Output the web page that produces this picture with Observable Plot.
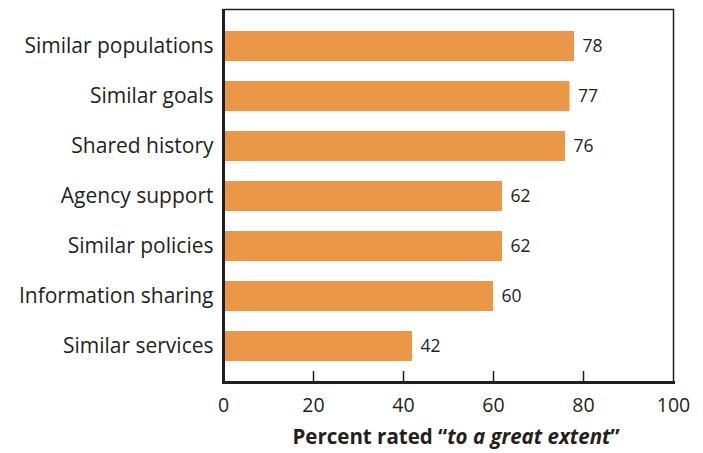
<!DOCTYPE html>
<html>
<head>
<meta charset="utf-8">
<script src="https://cdn.jsdelivr.net/npm/d3@7"></script>
<script src="https://cdn.jsdelivr.net/npm/@observablehq/plot@0.6"></script>
<style>
  body { margin: 0; background: #fff; font-family: "Open Sans", sans-serif; color: #231f20; }
  #chart { width: 703px; }
  #caption { position: relative; width: 703px; height: 28px; }
  #caption span { position: absolute; left: 456px; top: -2px; transform: translateX(-50%); white-space: nowrap;
    font-size: 20.5px; font-weight: 700; color: #231f20; }
</style>
</head>
<body>
<div id="chart"></div>
<div id="caption"><span>Percent rated “<i>to a great extent</i>”</span></div>
<script>
const categories = ["Similar populations", "Similar goals", "Shared history", "Agency support", "Similar policies", "Information sharing", "Similar services"];
const values = [78, 77, 76, 62, 62, 60, 42];
const xTicks = [0, 20, 40, 60, 80, 100];
const innerTicks = [20, 40, 60, 80];

const data = categories.map((c, i) => ({category: c, value: values[i]}));
const ink = "#231f20";

const plot = Plot.plot({
  width: 703,
  height: 424,
  marginLeft: 223,
  marginRight: 30,
  marginTop: 9,
  marginBottom: 42,
  style: {fontFamily: "Open Sans, sans-serif", color: ink, background: "white"},
  x: {domain: [0, 100], ticks: xTicks},
  y: {domain: categories, paddingInner: 0.406, paddingOuter: 0.4},
  marks: [
    Plot.frame({stroke: ink, strokeWidth: 1.5}),
    Plot.barX(data, {x: "value", y: "category", fill: "#EA9748"}),
    Plot.text(data, {x: "value", y: "category", text: d => String(d.value), textAnchor: "start", dx: 8, fontSize: 17.5, fill: ink}),
    Plot.ruleX(innerTicks, {stroke: ink, strokeWidth: 1.5, insetTop: 362}),
    Plot.ruleX([0], {stroke: ink, strokeWidth: 3}),
    Plot.frame({anchor: "bottom", stroke: ink, strokeWidth: 3}),
    Plot.axisX({ticks: xTicks, tickSize: 0, tickPadding: 16, fontSize: 19.5, label: null, color: ink}),
    Plot.axisY({tickSize: 0, tickPadding: 10, fontSize: 21, label: null, color: ink})
  ]
});
document.getElementById("chart").appendChild(plot);
</script>
</body>
</html>
